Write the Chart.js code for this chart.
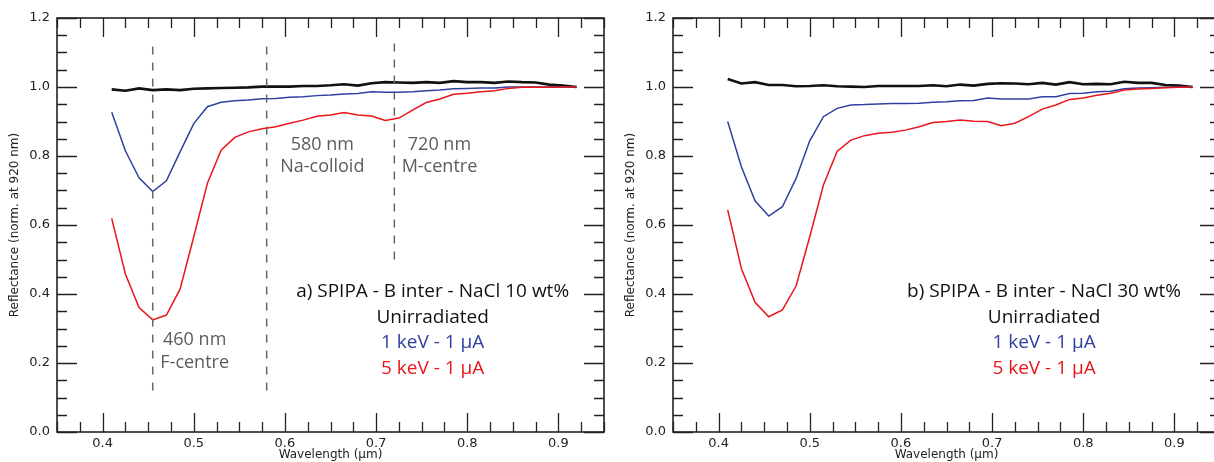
<!DOCTYPE html>
<html>
<head>
<meta charset="utf-8">
<script src="https://cdn.jsdelivr.net/npm/chart.js@4.4.1/dist/chart.umd.min.js"></script>
<style>
  html, body { margin: 0; padding: 0; background: #fff; overflow: hidden; }
  body { width: 1214px; height: 462px; position: relative; }
  .painel { position: absolute; top: 0; width: 616px; height: 462px; }
</style>
</head>
<body>
<div class="painel" style="left:0"><canvas id="graficoA"></canvas></div>
<div class="painel" style="left:616px"><canvas id="graficoB"></canvas></div>
<script>
// wavelength grid (µm), same for every spectrum
const wavelength = [0.41, 0.425, 0.44, 0.455, 0.47, 0.485, 0.5, 0.515, 0.53, 0.545, 0.56, 0.575,
    0.59, 0.605, 0.62, 0.635, 0.65, 0.665, 0.68, 0.695, 0.71, 0.725, 0.74, 0.755, 0.77, 0.785,
    0.8, 0.815, 0.83, 0.845, 0.86, 0.875, 0.89, 0.905, 0.92];

// a) NaCl 10 wt%
const aUnirr = [0.993, 0.989, 0.996, 0.991, 0.993, 0.991, 0.995, 0.996, 0.997, 0.998, 0.999, 1.001,
    1.001, 1.001, 1.003, 1.003, 1.005, 1.008, 1.004, 1.011, 1.014, 1.013, 1.012, 1.014, 1.012, 1.017,
    1.014, 1.014, 1.012, 1.016, 1.014, 1.013, 1.007, 1.004, 1.0];
const a1keV = [0.927, 0.815, 0.737, 0.697, 0.728, 0.812, 0.894, 0.943, 0.956, 0.960, 0.962, 0.966,
    0.967, 0.970, 0.972, 0.975, 0.977, 0.980, 0.981, 0.986, 0.985, 0.985, 0.986, 0.989, 0.991, 0.995,
    0.996, 0.997, 0.997, 1.0, 1.0, 1.0, 1.0, 1.0, 1.0];
const a5keV = [0.619, 0.458, 0.361, 0.325, 0.339, 0.414, 0.566, 0.721, 0.817, 0.854, 0.870, 0.879,
    0.885, 0.895, 0.904, 0.915, 0.919, 0.926, 0.919, 0.916, 0.903, 0.910, 0.933, 0.955, 0.965, 0.979,
    0.982, 0.986, 0.989, 0.996, 0.999, 0.999, 0.999, 1.0, 1.0];

// b) NaCl 30 wt%
const bUnirr = [1.023, 1.010, 1.014, 1.006, 1.006, 1.002, 1.003, 1.005, 1.002, 1.001, 1.0, 1.003,
    1.003, 1.003, 1.003, 1.005, 1.002, 1.007, 1.004, 1.009, 1.011, 1.010, 1.008, 1.012, 1.007, 1.014,
    1.008, 1.009, 1.008, 1.015, 1.012, 1.012, 1.006, 1.004, 1.0];
const b1keV = [0.900, 0.769, 0.670, 0.626, 0.653, 0.735, 0.844, 0.914, 0.938, 0.948, 0.949, 0.951,
    0.952, 0.952, 0.953, 0.956, 0.957, 0.960, 0.961, 0.968, 0.965, 0.965, 0.965, 0.972, 0.972, 0.981,
    0.982, 0.986, 0.988, 0.995, 0.997, 0.998, 0.999, 1.0, 1.0];
const b5keV = [0.644, 0.474, 0.376, 0.334, 0.354, 0.423, 0.566, 0.716, 0.813, 0.846, 0.859, 0.866,
    0.869, 0.875, 0.885, 0.897, 0.900, 0.904, 0.901, 0.900, 0.888, 0.895, 0.914, 0.936, 0.948, 0.964,
    0.968, 0.976, 0.982, 0.991, 0.994, 0.996, 0.998, 0.999, 1.0];

// axis ticks
const xTicks = [0.4, 0.5, 0.6, 0.7, 0.8, 0.9];
const yTicks = [0.0, 0.2, 0.4, 0.6, 0.8, 1.0, 1.2];

// absorption bands marked on panel a
const bandCentre = [0.455, 0.58, 0.72];
const bandLow = [0.12, 0.12, 0.5];
const bandHigh = [1.13, 1.13, 1.13];
const bandNames = [['460 nm', 'F-centre'], ['580 nm', 'Na-colloid'], ['720 nm', 'M-centre']];

const seriesNames = ['Unirradiated', '1 keV - 1 µA', '5 keV - 1 µA'];
const seriesColors = ['#111111', '#2f40a0', '#e8161a'];

Chart.defaults.font.family = 'DejaVu Sans';
Chart.defaults.color = '#222';

function pares(ys) {
    return wavelength.map((w, i) => ({ x: w, y: ys[i] }));
}

// frame with inward major/minor ticks on all four sides
const moldura = {
    id: 'moldura',
    afterDraw(chart) {
        const { ctx, chartArea: a, scales: { x, y } } = chart;
        ctx.save();
        ctx.strokeStyle = '#222';
        ctx.lineWidth = 1.3;
        ctx.beginPath();
        for (let i = 0; i <= 24; i++) {
            const v = x.min + i * 0.025;
            const major = Math.abs(v * 10 - Math.round(v * 10)) < 1e-6;
            const len = major ? 19 : 10;
            const px = Math.round(x.getPixelForValue(v)) + 0.5;
            ctx.moveTo(px, a.bottom); ctx.lineTo(px, a.bottom - len);
            ctx.moveTo(px, a.top); ctx.lineTo(px, a.top + len);
        }
        for (let i = 0; i <= 24; i++) {
            const v = y.min + i * 0.05;
            const major = Math.abs(v * 5 - Math.round(v * 5)) < 1e-6;
            const len = major ? 20 : 10;
            const py = Math.round(y.getPixelForValue(v)) + 0.5;
            ctx.moveTo(a.left, py); ctx.lineTo(a.left + len, py);
            ctx.moveTo(a.right, py); ctx.lineTo(a.right - len, py);
        }
        ctx.stroke();
        ctx.lineWidth = 1.6;
        ctx.strokeRect(a.left, a.top, a.right - a.left, a.bottom - a.top);
        ctx.restore();
    }
};

// free text placed in data coordinates
const textos = {
    id: 'textos',
    afterDatasetsDraw(chart, args, opts) {
        const { ctx, scales: { x, y } } = chart;
        ctx.save();
        ctx.textAlign = 'center';
        ctx.textBaseline = 'middle';
        (opts.items || []).forEach(t => {
            ctx.font = t.font;
            ctx.fillStyle = t.color;
            ctx.fillText(t.text, x.getPixelForValue(t.x), y.getPixelForValue(t.y));
        });
        ctx.restore();
    }
};

function montarGrafico(id, spectra, title, withBands) {
    const datasets = [];
    if (withBands) {
        bandCentre.forEach((c, i) => {
            datasets.push({
                data: [{ x: c, y: bandLow[i] }, { x: c, y: bandHigh[i] }],
                borderColor: '#666',
                borderWidth: 1.5,
                borderDash: [8, 8],
                pointRadius: 0
            });
        });
    }
    [2, 1, 0].forEach(k => {
        datasets.push({
            label: seriesNames[k],
            data: pares(spectra[k]),
            borderColor: seriesColors[k],
            borderWidth: k === 0 ? 2.6 : 1.5,
            pointRadius: 0,
            tension: 0
        });
    });

    const items = [];
    const legendX = withBands ? 0.762 : 0.757;
    const legendY = [0.406, 0.333, 0.258, 0.183];
    items.push({ text: title, x: legendX, y: legendY[0], color: '#111', font: '19px "Open Sans"' });
    seriesNames.forEach((n, k) => {
        items.push({ text: n, x: legendX, y: legendY[k + 1], color: seriesColors[k], font: '19px "Open Sans"' });
    });
    if (withBands) {
        const labelX = [0.501, 0.641, 0.7695];
        const labelY = [[0.267, 0.2], [0.832, 0.768], [0.832, 0.768]];
        bandNames.forEach((pair, i) => {
            pair.forEach((txt, j) => {
                items.push({ text: txt, x: labelX[i], y: labelY[i][j], color: '#5c5c5c', font: '18px "Open Sans"' });
            });
        });
    }

    return new Chart(document.getElementById(id), {
        type: 'line',
        data: { datasets },
        options: {
            responsive: true,
            maintainAspectRatio: false,
            animation: false,
            layout: { padding: { top: 18, right: 12, left: 0, bottom: 0 } },
            plugins: {
                legend: { display: false },
                tooltip: { enabled: false },
                textos: { items }
            },
            scales: {
                x: {
                    type: 'linear',
                    min: 0.35,
                    max: 0.95,
                    afterBuildTicks: s => { s.ticks = xTicks.map(v => ({ value: v })); },
                    afterFit: s => { s.height = 30; },
                    grid: { display: false, drawTicks: false },
                    border: { display: false },
                    ticks: { font: { size: 13 }, padding: 4, maxRotation: 0, autoSkip: false,
                        callback: v => Number(v).toFixed(1) },
                    title: { display: true, text: 'Wavelength (µm)', font: { size: 12 }, padding: 0 }
                },
                y: {
                    min: 0,
                    max: 1.2,
                    afterBuildTicks: s => { s.ticks = yTicks.map(v => ({ value: v })); },
                    afterFit: s => { s.width = 57; },
                    grid: { display: false, drawTicks: false },
                    border: { display: false },
                    ticks: { font: { size: 13 }, padding: 7, autoSkip: false,
                        callback: v => Number(v).toFixed(1) },
                    title: { display: true, text: 'Reflectance (norm. at 920 nm)', font: { size: 12 },
                        padding: { top: 8, bottom: 0 } }
                }
            }
        },
        plugins: [moldura, textos]
    });
}

montarGrafico('graficoA', [aUnirr, a1keV, a5keV], 'a) SPIPA - B inter - NaCl 10 wt%', true);
montarGrafico('graficoB', [bUnirr, b1keV, b5keV], 'b) SPIPA - B inter - NaCl 30 wt%', false);
</script>
</body>
</html>
